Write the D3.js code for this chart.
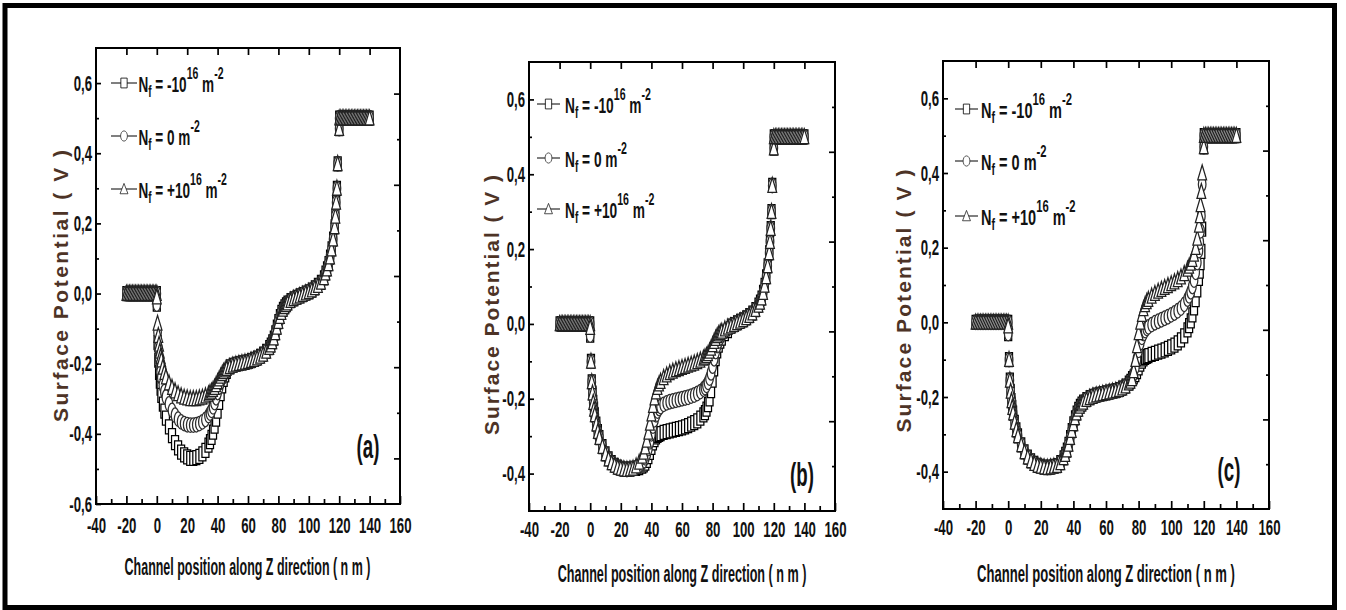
<!DOCTYPE html>
<html>
<head>
<meta charset="utf-8">
<title>Surface potential along the channel</title>
<script src="https://cdn.jsdelivr.net/npm/d3@7/dist/d3.min.js"></script>
<style>
  html, body { margin: 0; padding: 0; background: #fff; }
  svg { display: block; }
</style>
</head>
<body>
<svg id="fig" width="1346" height="610"></svg>
<script>
// ---------------- tick labels and texts ----------------
const xTickValues  = [-40, -20, 0, 20, 40, 60, 80, 100, 120, 140, 160];
const xMinorValues = [-30, -10, 10, 30, 50, 70, 90, 110, 130, 150];
const xTopValues   = [-20, 0, 20, 40, 60, 80, 100, 120, 140];
const yTickValuesA  = [-0.6, -0.4, -0.2, 0, 0.2, 0.4, 0.6];
const yMinorValuesA = [-0.5, -0.3, -0.1, 0.1, 0.3, 0.5];
const yTickValuesBC  = [-0.4, -0.2, 0, 0.2, 0.4, 0.6];
const yMinorValuesBC = [-0.3, -0.1, 0.1, 0.3, 0.5];
const panelTags = ["(a)", "(b)", "(c)"];
const xTitle = "Channel position along Z direction ( n m )";
const yTitle = "Surface Potential ( V )";
// legend entries: [text, role] pieces (role: "", "sub", "sup")
const legendLabels = [
  [["N", ""], ["f", "sub"], [" = -10", ""], ["16", "sup"], [" m", ""], ["-2", "sup"]],
  [["N", ""], ["f", "sub"], [" = 0 m", ""], ["-2", "sup"]],
  [["N", ""], ["f", "sub"], [" = +10", ""], ["16", "sup"], [" m", ""], ["-2", "sup"]]
];
const seriesShapes = ["square", "circle", "triangle"];

// ---------------- data (surface potential, V) ----------------
// source / drain contact regions
const sourceZ = [-20, -19, -18, -17, -16, -15, -14, -13, -12, -11, -10, -9, -8, -7, -6, -5, -4, -3, -2, -1, 0];
const sourceV = [0, 0, 0, 0, 0, 0, 0, 0, 0, 0, 0, 0, 0, 0, 0, 0, 0, 0, 0, 0, 0];
const drainZ  = [120, 121, 122, 123, 124, 125, 126, 127, 128, 129, 130, 131, 132, 133, 134, 135, 136, 137, 138, 139, 140];
const drainV  = [0.5, 0.5, 0.5, 0.5, 0.5, 0.5, 0.5, 0.5, 0.5, 0.5, 0.5, 0.5, 0.5, 0.5, 0.5, 0.5, 0.5, 0.5, 0.5, 0.5, 0.5];

// channel positions (nm)
const channelZ = [
  0, 0.5, 1, 1.5, 2, 2.5, 3, 4, 5, 6,
  8, 10, 12, 14, 16, 18, 20, 22, 24, 26, 28, 30, 32, 34,
  35, 36, 37, 38, 39, 40, 41, 42, 43, 44, 45, 46,
  48, 50, 52, 54, 56, 58, 60, 62, 64, 66, 68, 70, 72, 74,
  75, 76, 77, 78, 79, 80, 81, 82, 83, 84, 85, 86,
  88, 90, 92, 94, 96, 98, 100, 102, 104, 106, 108, 110,
  111, 112, 113, 114, 115, 116, 117, 117.5, 118, 118.5, 119, 120
];

// (a) charge in the first region, z = 48 ... 120 shared
const aTail = [
  -0.209, -0.205, -0.202, -0.2, -0.198, -0.196, -0.194, -0.191, -0.188, -0.184, -0.179, -0.173, -0.165, -0.154,
  -0.147, -0.138, -0.127, -0.112, -0.096, -0.08, -0.066, -0.054, -0.045, -0.038, -0.032, -0.027,
  -0.02, -0.015, -0.011, -0.007, -0.003, 0.001, 0.005, 0.01, 0.016, 0.023, 0.032, 0.045,
  0.058, 0.07, 0.085, 0.104, 0.127, 0.155, 0.19, 0.22, 0.26, 0.3, 0.37, 0.47
];
const aSquare = [
  -0.03, -0.14, -0.19, -0.225, -0.25, -0.27, -0.29, -0.315, -0.335, -0.355,
  -0.38, -0.405, -0.425, -0.44, -0.452, -0.46, -0.466, -0.47, -0.47, -0.468, -0.464, -0.457, -0.447, -0.432,
  -0.422, -0.41, -0.395, -0.378, -0.358, -0.335, -0.31, -0.285, -0.263, -0.245, -0.232, -0.222
].concat(aTail);
const aCircle = [
  -0.03, -0.11, -0.155, -0.185, -0.207, -0.225, -0.24, -0.262, -0.28, -0.295,
  -0.315, -0.333, -0.347, -0.358, -0.366, -0.371, -0.374, -0.375, -0.375, -0.374, -0.371, -0.366, -0.359, -0.348,
  -0.341, -0.333, -0.323, -0.311, -0.297, -0.282, -0.267, -0.253, -0.241, -0.232, -0.224, -0.218
].concat(aTail);
const aTriangle = [
  -0.01, -0.085, -0.12, -0.145, -0.165, -0.18, -0.19, -0.21, -0.225, -0.238,
  -0.255, -0.268, -0.278, -0.286, -0.292, -0.296, -0.298, -0.3, -0.3, -0.3, -0.298, -0.296, -0.292, -0.287,
  -0.283, -0.279, -0.274, -0.268, -0.26, -0.252, -0.244, -0.236, -0.229, -0.223, -0.218, -0.214
].concat(aTail);

// (b) charge in the second region: z = 0.5 ... 28 and z = 92 ... 120 shared
const bHead = [
  -0.1, -0.155, -0.185, -0.21, -0.228, -0.243, -0.268, -0.288, -0.304,
  -0.328, -0.347, -0.361, -0.371, -0.378, -0.383, -0.386, -0.388, -0.389, -0.388, -0.386
];
const bTail = [
  -0.006, -0.002, 0.003, 0.007, 0.011, 0.016, 0.022, 0.029, 0.038, 0.05,
  0.058, 0.069, 0.084, 0.103, 0.126, 0.155, 0.19, 0.22, 0.255, 0.3, 0.37, 0.47
];
const bSquare = [-0.03].concat(bHead, [
  -0.386, -0.384, -0.38,
  -0.377, -0.372, -0.365, -0.355, -0.343, -0.33, -0.318, -0.309, -0.302, -0.298, -0.295, -0.293,
  -0.29, -0.288, -0.286, -0.284, -0.282, -0.28, -0.278, -0.275, -0.272, -0.268, -0.264, -0.259, -0.252, -0.243,
  -0.237, -0.228, -0.216, -0.2, -0.178, -0.15, -0.12, -0.093, -0.072, -0.057, -0.046, -0.038,
  -0.026, -0.018
], bTail);
const bCircle = [-0.03].concat(bHead, [
  -0.384, -0.38, -0.372,
  -0.366, -0.358, -0.347, -0.333, -0.315, -0.294, -0.273, -0.256, -0.243, -0.233, -0.226, -0.221,
  -0.215, -0.211, -0.208, -0.206, -0.204, -0.202, -0.2, -0.198, -0.196, -0.193, -0.19, -0.186, -0.181, -0.174,
  -0.17, -0.164, -0.156, -0.145, -0.131, -0.113, -0.093, -0.074, -0.058, -0.046, -0.037, -0.03,
  -0.02, -0.013
], bTail);
const bTriangle = [-0.01].concat(bHead, [
  -0.38, -0.37, -0.354,
  -0.343, -0.329, -0.311, -0.29, -0.266, -0.241, -0.218, -0.198, -0.182, -0.17, -0.161, -0.154,
  -0.144, -0.137, -0.131, -0.127, -0.123, -0.12, -0.117, -0.114, -0.111, -0.108, -0.105, -0.101, -0.097, -0.092,
  -0.089, -0.085, -0.08, -0.073, -0.065, -0.056, -0.047, -0.039, -0.032, -0.027, -0.023, -0.02,
  -0.014, -0.009
], bTail);

// (c) charge in the third region: z = 0.5 ... 76 shared
const cHead = [
  -0.1, -0.155, -0.185, -0.21, -0.228, -0.243, -0.268, -0.288, -0.304,
  -0.328, -0.347, -0.361, -0.371, -0.378, -0.383, -0.386, -0.388, -0.389, -0.388, -0.386, -0.384, -0.376, -0.363,
  -0.354, -0.342, -0.327, -0.309, -0.29, -0.272, -0.256, -0.243, -0.233, -0.225, -0.219, -0.214,
  -0.207, -0.202, -0.198, -0.195, -0.193, -0.191, -0.189, -0.187, -0.185, -0.183, -0.18, -0.176, -0.171, -0.163,
  -0.158, -0.151
];
const cSquare = [-0.03].concat(cHead, [
  -0.146, -0.14, -0.132, -0.122, -0.112, -0.104, -0.098, -0.094, -0.091, -0.089,
  -0.086, -0.083, -0.08, -0.077, -0.074, -0.07, -0.066, -0.061, -0.055, -0.047, -0.036, -0.02,
  -0.009, 0.004, 0.02, 0.039, 0.061, 0.087, 0.118, 0.137, 0.16, 0.19, 0.25, 0.47
]);
const cCircle = [-0.03].concat(cHead, [
  -0.138, -0.12, -0.098, -0.075, -0.055, -0.04, -0.03, -0.022, -0.016, -0.012,
  -0.006, -0.001, 0.003, 0.007, 0.011, 0.015, 0.02, 0.025, 0.031, 0.038, 0.048, 0.062,
  0.071, 0.082, 0.096, 0.113, 0.134, 0.16, 0.192, 0.215, 0.245, 0.285, 0.37, 0.47
]);
const cTriangle = [-0.01].concat(cHead, [
  -0.13, -0.1, -0.063, -0.028, 0.0, 0.021, 0.036, 0.047, 0.055, 0.061,
  0.07, 0.077, 0.083, 0.088, 0.093, 0.098, 0.103, 0.108, 0.114, 0.121, 0.13, 0.142,
  0.15, 0.158, 0.168, 0.182, 0.2, 0.225, 0.26, 0.285, 0.315, 0.35, 0.4, 0.47
]);

// ---------------- layout ----------------
const FONT = "'Liberation Sans', Arial, Helvetica, sans-serif";
const SQUISH = 0.6;   // horizontal compression of the condensed lettering

const panels = [
  { x0: 96, x1: 400, y0: 48, y1: 504, yDomain: [-0.6, 0.7], rDomain: [-0.5, 0.5],
    yTicks: yTickValuesA, yMinor: yMinorValuesA, rTicks: [-0.4, -0.2, 0, 0.2, 0.4], rMinor: [-0.3, -0.1, 0.1, 0.3],
    series: [aSquare, aCircle, aTriangle],
    legX: 111, legLen: 26, legTextX: 138.5, legRows: [83, 136, 189], legW: 85,
    xPad: 13, tagX: 368, tagY: 458,
    xTitleX: 247.5, xTitleY: 575, xTitleW: 246, yTitleX: 68, yTitleY: 286, yTitleL: 272 },
  { x0: 529, x1: 835, y0: 62, y1: 511, yDomain: [-0.5, 0.7], rDomain: [-0.4, 0.6],
    yTicks: yTickValuesBC, yMinor: yMinorValuesBC, rTicks: [-0.2, 0, 0.2, 0.4], rMinor: [-0.3, -0.1, 0.1, 0.3, 0.5],
    series: [bSquare, bCircle, bTriangle],
    legX: 537, legLen: 23, legTextX: 565, legRows: [104, 158, 209], legW: 86,
    xPad: 10, tagX: 802, tagY: 486,
    xTitleX: 682, xTitleY: 582, xTitleW: 249, yTitleX: 499, yTitleY: 305, yTitleL: 260 },
  { x0: 943, x1: 1269, y0: 61, y1: 509, yDomain: [-0.5, 0.7], rDomain: [-0.4, 0.6],
    yTicks: yTickValuesBC, yMinor: yMinorValuesBC, rTicks: [-0.2, 0, 0.2, 0.4], rMinor: [-0.3, -0.1, 0.1, 0.3, 0.5],
    series: [cSquare, cCircle, cTriangle],
    legX: 955, legLen: 23, legTextX: 981, legRows: [109, 161, 216], legW: 91,
    xPad: 10, tagX: 1229, tagY: 481,
    xTitleX: 1106, xTitleY: 582, xTitleW: 258, yTitleX: 911, yTitleY: 301, yTitleL: 263 }
];

const markerPath = {
  square:   "M-3.5,-7H3.5V7H-3.5Z",
  circle:   "M-3.8,0A3.8,7.3 0 1,0 3.8,0A3.8,7.3 0 1,0 -3.8,0Z",
  triangle: "M0,-8L4.4,6.8H-4.4Z"
};
const markerStroke = { square: "#000", circle: "#2e2e2e", triangle: "#222" };

const fmtY = v => Math.abs(v) < 1e-9 ? "0,0" : (v < 0 ? "-" : "") + Math.abs(v).toFixed(1).replace(".", ",");

const svg = d3.select("#fig");
svg.append("rect").attr("width", 1346).attr("height", 610).attr("fill", "#fff");

panels.forEach((p, pi) => {
  const g = svg.append("g");
  const x = d3.scaleLinear().domain([-40, 160]).range([p.x0, p.x1]);
  const y = d3.scaleLinear().domain(p.yDomain).range([p.y1, p.y0]);
  const yR = d3.scaleLinear().domain(p.rDomain).range([p.y1, p.y0]);

  // markers: one group per charge level, contacts + channel
  p.series.forEach((vals, si) => {
    if (vals.length !== channelZ.length) console.error("length mismatch", pi, si, vals.length);
    const pts = sourceZ.map((z, i) => ({ z, v: sourceV[i] }))
      .concat(channelZ.map((z, i) => ({ z, v: vals[i] })))
      .concat(drainZ.map((z, i) => ({ z, v: drainV[i] })));
    const shape = seriesShapes[si];
    g.append("g").selectAll("path").data(pts).join("path")
      .attr("d", markerPath[shape])
      .attr("transform", d => `translate(${x(d.z)},${y(d.v)})`)
      .attr("fill", "#fff")
      .attr("stroke", markerStroke[shape])
      .attr("stroke-width", 1.25);
  });

  const styleAxis = a => {
    a.select(".domain").remove();
    a.selectAll("line").attr("stroke", "#000").attr("stroke-width", 1.7);
    a.attr("font-family", FONT).attr("font-size", 22).attr("font-weight", "bold");
    a.selectAll("text").attr("fill", "#111");
  };

  // bottom axis: labelled majors + minors, ticks pointing inwards
  g.append("g").attr("transform", `translate(0,${p.y1})`)
    .call(d3.axisBottom(x).tickValues(xMinorValues).tickSize(-5).tickFormat(""))
    .call(styleAxis);
  g.append("g").attr("transform", `translate(0,${p.y1})`)
    .call(d3.axisBottom(x).tickValues(xTickValues).tickSizeInner(-8).tickSizeOuter(0)
      .tickPadding(p.xPad).tickFormat(d => String(d)))
    .call(styleAxis)
    .selectAll("text").attr("transform", `scale(${SQUISH},1)`);

  // top axis: majors only
  g.append("g").attr("transform", `translate(0,${p.y0})`)
    .call(d3.axisTop(x).tickValues(xTopValues).tickSize(-7).tickFormat(""))
    .call(styleAxis);

  // left axis
  g.append("g").attr("transform", `translate(${p.x0},0)`)
    .call(d3.axisLeft(y).tickValues(p.yMinor).tickSize(-3).tickFormat(""))
    .call(styleAxis);
  g.append("g").attr("transform", `translate(${p.x0},0)`)
    .call(d3.axisLeft(y).tickValues(p.yTicks).tickSizeInner(-5).tickSizeOuter(0)
      .tickPadding(4 / SQUISH).tickFormat(fmtY))
    .call(styleAxis)
    .selectAll("text").attr("transform", `scale(${SQUISH},1)`);

  // right axis (unlabelled, its own spacing)
  g.append("g").attr("transform", `translate(${p.x1},0)`)
    .call(d3.axisLeft(yR).tickValues(p.rMinor).tickSize(3).tickFormat(""))
    .call(styleAxis);
  g.append("g").attr("transform", `translate(${p.x1},0)`)
    .call(d3.axisLeft(yR).tickValues(p.rTicks).tickSize(6).tickFormat(""))
    .call(styleAxis);

  // frame
  g.append("rect")
    .attr("x", p.x0).attr("y", p.y0)
    .attr("width", p.x1 - p.x0).attr("height", p.y1 - p.y0)
    .attr("fill", "none").attr("stroke", "#000").attr("stroke-width", 2);

  // legend
  let legScale = null;
  legendLabels.forEach((parts, li) => {
    const ly = p.legRows[li];
    const shape = seriesShapes[li];
    g.append("line")
      .attr("x1", p.legX).attr("x2", p.legX + p.legLen)
      .attr("y1", ly).attr("y2", ly)
      .attr("stroke", "#000").attr("stroke-width", 1);
    g.append("path")
      .attr("d", markerPath[shape])
      .attr("transform", `translate(${p.legX + p.legLen / 2},${ly}) scale(0.9,0.7)`)
      .attr("fill", "#fff")
      .attr("stroke", markerStroke[shape])
      .attr("stroke-width", 1);
    const t = g.append("text")
      .attr("font-family", FONT).attr("font-weight", "bold").attr("font-size", 22)
      .attr("fill", "#111");
    let shift = 0;
    parts.forEach(([txt, role]) => {
      let target = 0, size = 22;
      if (role === "sub") { target = 5; size = 16; }
      if (role === "sup") { target = -13; size = 17; }
      t.append("tspan").attr("dy", target - shift).attr("font-size", size).text(txt);
      shift = target;
    });
    if (legScale === null) legScale = p.legW / t.node().getComputedTextLength();
    t.attr("transform", `translate(${p.legTextX},${ly + 8.5}) scale(${legScale},1)`);
  });

  // panel tag
  g.append("text")
    .attr("transform", `translate(${p.tagX},${p.tagY}) scale(0.55,1)`)
    .attr("text-anchor", "middle")
    .attr("font-family", FONT).attr("font-weight", "bold").attr("font-size", 34)
    .attr("fill", "#111")
    .text(panelTags[pi]);

  // x title
  const xt = g.append("text")
    .attr("text-anchor", "middle")
    .attr("font-family", FONT).attr("font-weight", "bold").attr("font-size", 24)
    .attr("fill", "#111")
    .text(xTitle);
  const xs = p.xTitleW / xt.node().getComputedTextLength();
  xt.attr("transform", `translate(${p.xTitleX},${p.xTitleY}) scale(${xs},1)`);

  // y title
  g.append("text")
    .attr("transform", `translate(${p.yTitleX},${p.yTitleY}) rotate(-90)`)
    .attr("text-anchor", "middle")
    .attr("font-family", FONT).attr("font-weight", "bold").attr("font-size", 21)
    .attr("fill", "#4d3326")
    .attr("textLength", p.yTitleL).attr("lengthAdjust", "spacing")
    .text(yTitle);
});

// outer border
svg.append("rect")
  .attr("x", 5).attr("y", 5.5).attr("width", 1329.5).attr("height", 602)
  .attr("fill", "none").attr("stroke", "#000").attr("stroke-width", 5);
</script>
</body>
</html>
